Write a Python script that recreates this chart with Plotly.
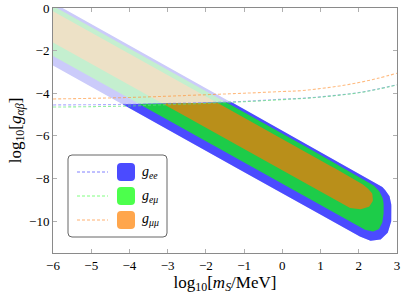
import numpy as np
import plotly.graph_objects as go

# ---------------- data ----------------
# band boundaries in (log10 mS, log10 g) for each coupling
ee_upper_x = [-6.0, 2.45, 2.65, 2.80, 2.86]
ee_upper_y = [0.25, -8.20, -8.45, -8.80, -9.30]
ee_lower_x = [-6.0, 2.10, 2.35, 2.60, 2.78, 2.85, 2.86]
ee_lower_y = [-2.70, -10.80, -10.95, -10.85, -10.50, -10.00, -9.30]

em_upper_x = [-6.0, 2.30, 2.50, 2.62, 2.66]
em_upper_y = [0.10, -8.20, -8.50, -8.85, -9.30]
em_lower_x = [-6.0, 2.20, 2.40, 2.55, 2.64, 2.66]
em_lower_y = [-2.25, -10.45, -10.50, -10.35, -9.95, -9.30]

mm_upper_x = [-6.0, 1.95, 2.20, 2.35, 2.38]
mm_upper_y = [-0.15, -8.10, -8.40, -8.70, -9.00]
mm_lower_x = [-6.0, 1.80, 2.10, 2.30, 2.38]
mm_lower_y = [-1.62, -9.42, -9.45, -9.30, -9.00]

# dashed bound curves
bound_x = [-6, -5, -4, -3, -2, -1, 0, 0.5, 1, 1.5, 2, 2.5, 3]
bound_ee = [-4.55, -4.54, -4.52, -4.48, -4.44, -4.38, -4.28, -4.24, -4.17, -4.08, -3.97, -3.80, -3.60]
bound_em = [-4.65, -4.63, -4.60, -4.54, -4.48, -4.40, -4.30, -4.25, -4.18, -4.09, -3.98, -3.81, -3.61]
bound_mm = [-4.27, -4.24, -4.20, -4.14, -4.07, -4.00, -3.92, -3.88, -3.78, -3.66, -3.50, -3.30, -3.06]

labels = ["<i>g</i><sub><i>ee</i></sub>", "<i>g</i><sub><i>eμ</i></sub>", "<i>g</i><sub><i>μμ</i></sub>"]
x_ticks = [-6, -5, -4, -3, -2, -1, 0, 1, 2, 3]
y_ticks = [0, -2, -4, -6, -8, -10]

# ---------------- styling ----------------
FONT = "Liberation Serif"
faded = ["#cbcbfa", "#c4efcf", "#ede1c6"]
solid = ["#4b4bff", "#1dcc49", "#b98f1a"]
legend_fill = ["#4b4bff", "#4cff4c", "#ffa64d"]
dash_col = ["rgba(120,120,255,0.6)", "rgba(90,230,110,0.65)", "rgba(255,150,60,0.65)"]
legend_dash = ["#8080ff", "#80ff80", "#ffb070"]

bands = [
    (ee_upper_x, ee_upper_y, ee_lower_x, ee_lower_y),
    (em_upper_x, em_upper_y, em_lower_x, em_lower_y),
    (mm_upper_x, mm_upper_y, mm_lower_x, mm_lower_y),
]
threshold_y = bound_ee

fig = go.Figure()


def band_grid(ux, uy, lx, ly):
    xmax = max(ux[-1], lx[-1])
    xs = np.linspace(-6.0, xmax, 800)
    U = np.interp(xs, ux, uy)
    L = np.interp(xs, lx, ly)
    return xs, U, L


# faded full bands
for i, (ux, uy, lx, ly) in enumerate(bands):
    xs, U, L = band_grid(ux, uy, lx, ly)
    fig.add_trace(go.Scatter(
        x=np.concatenate([xs, xs[::-1]]), y=np.concatenate([U, L[::-1]]),
        fill="toself", fillcolor=faded[i], line=dict(width=0), mode="lines",
        hoverinfo="skip", showlegend=False))

# opaque parts below the bound
for i, (ux, uy, lx, ly) in enumerate(bands):
    xs, U, L = band_grid(ux, uy, lx, ly)
    T = np.interp(xs, bound_x, threshold_y)
    top = np.minimum(U, T)
    m = top > L
    xs2, top2, L2 = xs[m], top[m], L[m]
    fig.add_trace(go.Scatter(
        x=np.concatenate([xs2, xs2[::-1]]), y=np.concatenate([top2, L2[::-1]]),
        fill="toself", fillcolor=solid[i], line=dict(width=0), mode="lines",
        hoverinfo="skip", showlegend=False))

# dashed bound curves
for i, yb in enumerate([bound_ee, bound_em, bound_mm]):
    fig.add_trace(go.Scatter(
        x=bound_x, y=yb, mode="lines", line=dict(color=dash_col[i], width=1.1, dash="3px,2px", shape="spline"),
        hoverinfo="skip", showlegend=False))

# ---------------- layout ----------------
L_PX, R_PX, T_PX, B_PX = 53, 397, 8, 253
W, H = 404, 295


def px2paper(x, y):
    return (x - L_PX) / (R_PX - L_PX), (B_PX - y) / (B_PX - T_PX)


def rounded_rect(x0, y0, x1, y1, r):
    rx = r / (R_PX - L_PX)
    ry = r / (B_PX - T_PX)
    a0, b0 = px2paper(x0, y1)  # bottom-left
    a1, b1 = px2paper(x1, y0)  # top-right
    return (f"M {a0+rx},{b0} L {a1-rx},{b0} Q {a1},{b0} {a1},{b0+ry} "
            f"L {a1},{b1-ry} Q {a1},{b1} {a1-rx},{b1} L {a0+rx},{b1} "
            f"Q {a0},{b1} {a0},{b1-ry} L {a0},{b0+ry} Q {a0},{b0} {a0+rx},{b0} Z")


shapes = []
annotations = []
shapes.append(dict(type="path", xref="paper", yref="paper",
                   path=rounded_rect(68, 155, 167, 237, 4),
                   line=dict(color="#555555", width=0.9), fillcolor="white", layer="above"))
rows = [172, 196, 220]
for i, ry in enumerate(rows):
    a0, b = px2paper(77, ry)
    a1, _ = px2paper(108, ry)
    shapes.append(dict(type="line", xref="paper", yref="paper", x0=a0, x1=a1, y0=b, y1=b,
                       line=dict(color=legend_dash[i], width=1, dash="3px,2px"), layer="above"))
    shapes.append(dict(type="path", xref="paper", yref="paper",
                       path=rounded_rect(117, ry - 9, 135, ry + 9, 4),
                       line=dict(width=0), fillcolor=legend_fill[i], layer="above"))
    ax, ay = px2paper(140, ry)
    annotations.append(dict(xref="paper", yref="paper", x=ax, y=ay, xanchor="left", yanchor="middle",
                            text=labels[i], showarrow=False,
                            font=dict(family=FONT, size=14, color="black")))

axis_common = dict(
    showgrid=False, zeroline=False, showline=True, linecolor="#8a8a8a", linewidth=1,
    mirror="ticks", ticks="inside", ticklen=4, tickcolor="#b0b0b0", tickwidth=1,
    tickfont=dict(family=FONT, size=13, color="black"), automargin=False,
)

fig.update_layout(
    width=W, height=H,
    margin=dict(l=L_PX, r=W - R_PX, t=T_PX, b=H - B_PX, autoexpand=False),
    paper_bgcolor="white", plot_bgcolor="white",
    showlegend=False,
    xaxis=dict(range=[-6, 3], tickvals=x_ticks, **axis_common,
               title=dict(text="log<sub>10</sub>[<i>m<sub>S</sub></i>/MeV]", standoff=3,
                          font=dict(family=FONT, size=17, color="black"))),
    yaxis=dict(range=[-11.5, 0], tickvals=y_ticks, **axis_common,
               title=dict(text="log<sub>10</sub>[<i>g</i><sub><i>αβ</i></sub>]", standoff=3,
                          font=dict(family=FONT, size=17, color="black"))),
    shapes=shapes, annotations=annotations,
)

fig.write_html("out.html", config={"displayModeBar": False},
               post_script="document.body.style.margin='0';document.body.style.overflow='hidden';")
